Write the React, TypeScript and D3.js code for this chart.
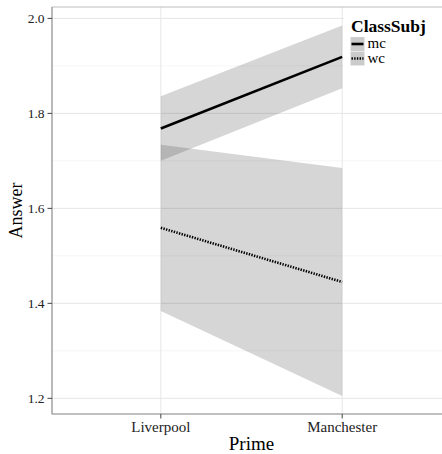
import React from "react";
import * as d3 from "d3";

const categories = ["Liverpool", "Manchester"];
const groups = ["mc", "wc"];
const meanMc = [1.768, 1.919];
const lowerMc = [1.7, 1.853];
const upperMc = [1.836, 1.985];
const meanWc = [1.559, 1.445];
const lowerWc = [1.384, 1.205];
const upperWc = [1.734, 1.685];
const yTicks = [1.2, 1.4, 1.6, 1.8, 2.0];
const yMinor = [1.3, 1.5, 1.7, 1.9];

const W = 442;
const H = 454;
const FONT = "'Liberation Serif', 'Times New Roman', serif";

export default function App() {
  const left = 52, right = 451, top = 7, bottom = 414;
  const x = d3.scalePoint<string>().domain(categories).range([left, right]).padding(0.6);
  const y = d3.scaleLinear().domain([1.167, 2.024]).range([bottom, top]);

  const series = [
    { name: "mc", mean: meanMc, lo: lowerMc, hi: upperMc, dash: undefined as string | undefined },
    { name: "wc", mean: meanWc, lo: lowerWc, hi: upperWc, dash: "1.4,1.3" },
  ];

  const ribbon = (lo: number[], hi: number[]) =>
    d3
      .area<number>()
      .x((_, i) => x(categories[i]) as number)
      .y0((_, i) => y(lo[i]))
      .y1((_, i) => y(hi[i]))(lo) as string;

  const line = (m: number[]) =>
    d3
      .line<number>()
      .x((_, i) => x(categories[i]) as number)
      .y((d) => y(d))(m) as string;

  return (
    <svg width={W} height={H} style={{ position: "absolute", left: 0, top: 0, background: "#fff" }} fontFamily={FONT}>
      <rect x={0} y={0} width={W} height={H} fill="#fff" />
      {yMinor.map((t) => (
        <line key={"mn" + t} x1={left} x2={right} y1={y(t)} y2={y(t)} stroke="#f3f3f3" strokeWidth={0.8} />
      ))}
      {yTicks.map((t) => (
        <line key={"mj" + t} x1={left} x2={right} y1={y(t)} y2={y(t)} stroke="#e6e6e6" strokeWidth={1} />
      ))}
      {categories.map((c) => (
        <line key={"vx" + c} x1={x(c)} x2={x(c)} y1={top} y2={bottom} stroke="#e6e6e6" strokeWidth={1} />
      ))}
      {series.map((s) => (
        <path key={"r" + s.name} d={ribbon(s.lo, s.hi)} fill="#333" fillOpacity={0.2} />
      ))}
      {series.map((s) => (
        <path
          key={"l" + s.name}
          d={line(s.mean)}
          fill="none"
          stroke="#000"
          strokeWidth={2.6}
          strokeDasharray={s.dash}
        />
      ))}
      <rect x={left} y={top} width={right - left} height={bottom - top} fill="none" stroke="#bdbdbd" strokeWidth={1} />
      <line x1={left} x2={left} y1={top} y2={bottom} stroke="#a0a0a0" strokeWidth={1.2} />
      <line x1={left} x2={right} y1={bottom} y2={bottom} stroke="#a0a0a0" strokeWidth={1.2} />
      {yTicks.map((t) => (
        <g key={"yt" + t}>
          <line x1={left - 4.5} x2={left} y1={y(t)} y2={y(t)} stroke="#444" strokeWidth={1} />
          <text x={left - 7.5} y={y(t)} dy="0.35em" textAnchor="end" fontSize={13.5} fill="#222">
            {d3.format(".1f")(t)}
          </text>
        </g>
      ))}
      {categories.map((c) => (
        <g key={"xt" + c}>
          <line x1={x(c)} x2={x(c)} y1={bottom} y2={bottom + 4.5} stroke="#444" strokeWidth={1} />
          <text x={x(c)} y={431.5} textAnchor="middle" fontSize={15} fill="#222">
            {c}
          </text>
        </g>
      ))}
      <text x={(left + right) / 2} y={450} textAnchor="middle" fontSize={19} fill="#000">
        Prime
      </text>
      <text
        transform={`translate(22,${(top + bottom) / 2}) rotate(-90)`}
        textAnchor="middle"
        fontSize={18}
        fill="#000"
      >
        Answer
      </text>
      <rect x={344} y={8} width={W - 344} height={64} fill="#fff" />
      <text x={351} y={32} fontSize={17.5} fontWeight="bold" fill="#000">
        ClassSubj
      </text>
      {groups.map((g, i) => {
        const ky = 37 + i * 14.5;
        const s = series[i];
        return (
          <g key={"lg" + g}>
            <rect x={350.5} y={ky} width={14} height={14} fill="#f2f2f2" stroke="#fff" strokeWidth={0.5} />
            <rect x={350.5} y={ky} width={14} height={14} fill="#333" fillOpacity={0.2} />
            <line x1={351.5} x2={363.5} y1={ky + 7} y2={ky + 7} stroke="#000" strokeWidth={2.6} strokeDasharray={s.dash} />
            <text x={367.5} y={ky + 11} fontSize={15} fill="#000">
              {g}
            </text>
          </g>
        );
      })}
    </svg>
  );
}
